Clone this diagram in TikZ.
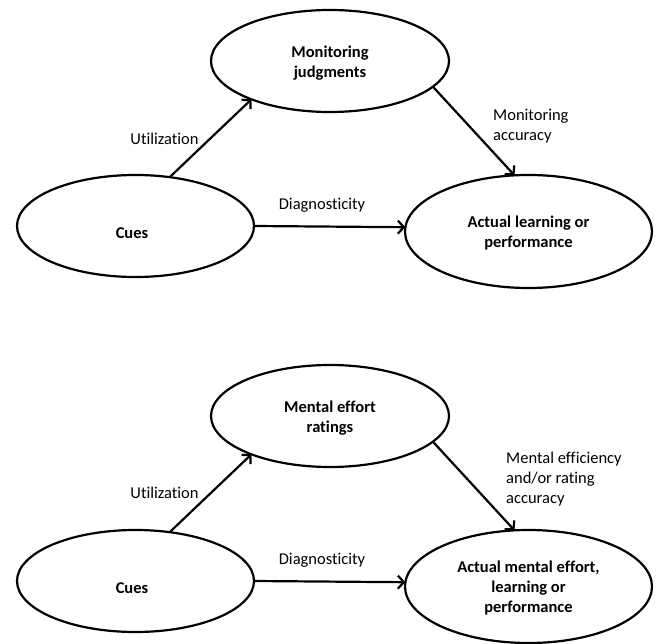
\documentclass[tikz,border=0pt]{standalone}
\usepackage{fontspec}
\setmainfont[RawFeature={-liga;-dlig;-clig}]{Carlito}
\usetikzlibrary{shapes.geometric,arrows.meta}
\tikzset{
  oval/.style={ellipse,draw,line width=2.2pt,inner sep=0pt,outer sep=0pt},
  bold/.style={font=\fontsize{16.5}{20}\selectfont\bfseries,align=center,inner sep=0pt},
  lbl/.style={font=\fontsize{16.5}{20}\selectfont,inner sep=0pt},
  arr/.style={line width=2.2pt,-{Straight Barb[length=6pt,width=13pt,line width=2.2pt]}}
}
\begin{document}
\begin{tikzpicture}[x=1pt,y=-1pt]
\useasboundingbox (0,0) rectangle (656,644);
% ---------- top diagram ----------
\node[oval,minimum width=238pt,minimum height=102pt] (mon) at (330,61) {};
\node[oval,minimum width=237pt,minimum height=102pt] (cues) at (135.5,226) {};
\node[oval,minimum width=247pt,minimum height=113pt] (act) at (528.5,231.5) {};
\node[bold] (monT) at (330,63) {Monitoring\\judgments};
\node[bold] (cuesT) at (132,233) {Cues};
\node[bold] (actT) at (528.5,233) {Actual learning or\\performance};
\draw[arr] (cues.55) -- (mon.206);
\draw[arr] (mon.-14) -- (act.104);
\draw[arr] (cues.0) -- (act.178);
\node[lbl] (util) at (164.5,139) {Utilization};
\node[lbl] (diag) at (322,205) {Diagnosticity};
\node[lbl,anchor=west,align=left] (acc) at (493,126) {Monitoring\\accuracy};
% ---------- bottom diagram ----------
\node[oval,minimum width=238pt,minimum height=102pt] (ment) at (330,416) {};
\node[oval,minimum width=237pt,minimum height=102pt] (cuesb) at (135.5,581) {};
\node[oval,minimum width=247pt,minimum height=113pt] (actb) at (528.5,586.5) {};
\node[bold] (mentT) at (330,418) {Mental effort\\ratings};
\node[bold] (cuesbT) at (132,588) {Cues};
\node[bold] (actbT) at (528.5,588) {Actual mental effort,\\learning or\\performance};
\draw[arr] (cuesb.55) -- (ment.206);
\draw[arr] (ment.-14) -- (actb.104);
\draw[arr] (cuesb.0) -- (actb.178);
\node[lbl] (utilb) at (164.5,493) {Utilization};
\node[lbl] (diagb) at (322,560) {Diagnosticity};
\node[lbl,anchor=west,align=left] (effb) at (506,479.5) {Mental efficiency\\and/or rating\\accuracy};
\end{tikzpicture}
\end{document}
